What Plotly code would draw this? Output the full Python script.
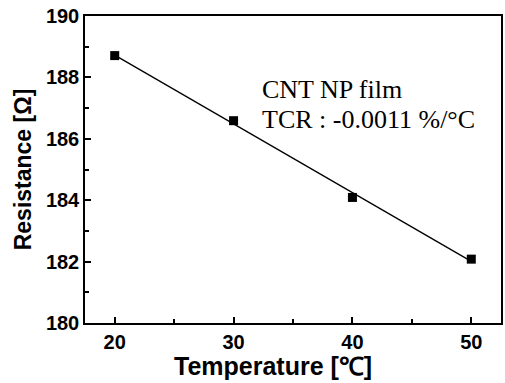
import numpy as np
import plotly.graph_objects as go

temperature = [20, 30, 40, 50]
resistance = [188.71, 186.59, 184.09, 182.08]
x_ticks = [20, 30, 40, 50]
y_ticks = [180, 182, 184, 186, 188, 190]

slope, intercept = np.polyfit(temperature, resistance, 1)
fit_y = [slope * t + intercept for t in temperature]

fig = go.Figure()
fig.add_trace(go.Scatter(x=temperature, y=fit_y, mode="lines",
                         line=dict(color="black", width=1.3), showlegend=False))
fig.add_trace(go.Scatter(x=temperature, y=resistance, mode="markers",
                         marker=dict(symbol="square", size=9, color="black"),
                         showlegend=False))

ann_font = dict(family="Liberation Serif", size=26, color="black")
fig.add_annotation(x=0.42, y=0.814, xref="paper", yref="paper", xanchor="left", yanchor="top",
                   text="CNT NP film", showarrow=False, align="left", font=ann_font)
fig.add_annotation(x=0.42, y=0.717, xref="paper", yref="paper", xanchor="left", yanchor="top",
                   text="TCR : -0.0011 %/°C", showarrow=False, align="left", font=ann_font)
# x-axis title (placed as annotation to match reference's left offset)
fig.add_annotation(x=0.451, y=-0.088, xref="paper", yref="paper", xanchor="center", yanchor="top",
                   text="Temperature [℃]", showarrow=False,
                   font=dict(family="Liberation Sans", size=25, color="black", weight="bold"))

axis_common = dict(showline=True, linecolor="black", linewidth=1.5, mirror=True,
                   ticks="inside", ticklen=6, tickwidth=1.5, tickcolor="black",
                   showgrid=False, zeroline=False,
                   tickfont=dict(family="Liberation Sans", size=20, color="black", weight="bold"))

fig.update_xaxes(range=[17.5, 52.5], tickvals=x_ticks,
                 minor=dict(ticks="inside", ticklen=4, tickwidth=1.5, tickcolor="black", dtick=5, tick0=0),
                 **axis_common)
fig.update_yaxes(range=[180, 190], tickvals=y_ticks,
                 minor=dict(ticks="inside", ticklen=4, tickwidth=1.5, tickcolor="black", dtick=1, tick0=0),
                 title=dict(text="Resistance [Ω]", standoff=8,
                            font=dict(family="Liberation Sans", size=23, color="black", weight="bold")),
                 **axis_common)

fig.update_layout(width=505, height=383, margin=dict(l=85, r=2, t=16, b=60),
                  plot_bgcolor="white", paper_bgcolor="white")
fig.write_html("out.html")
